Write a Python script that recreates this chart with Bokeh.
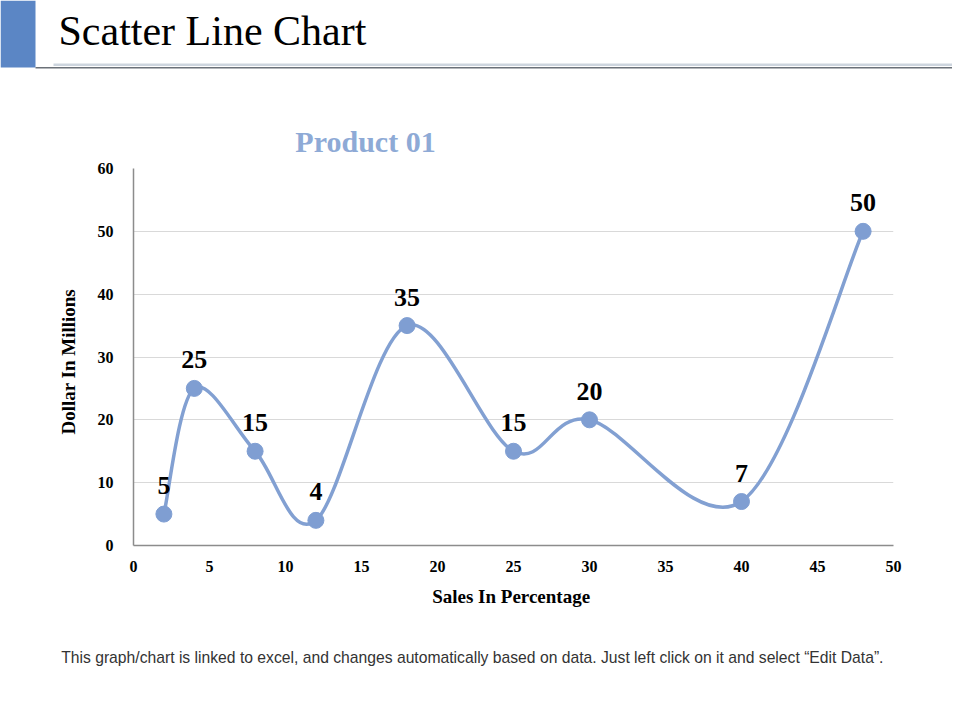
from bokeh.plotting import figure
from bokeh.layouts import column
from bokeh.models import Range1d, FixedTicker, Label, BoxAnnotation
from bokeh.core.properties import value
from bokeh.embed import file_html
from bokeh.resources import INLINE
import numpy as np

# ---- data ----
sales_pct = [2, 4, 8, 12, 18, 25, 30, 40, 48]
dollars = [5, 25, 15, 4, 35, 15, 20, 7, 50]
x_ticks = [0, 5, 10, 15, 20, 25, 30, 35, 40, 45, 50]
y_ticks = [0, 10, 20, 30, 40, 50, 60]
series_name = "Product 01"
slide_title = "Scatter Line Chart"
x_title = "Sales In  Percentage"
y_title = "Dollar  In  Millions"
footer_text = ("This graph/chart is linked to excel, and changes automatically  based on data. "
               "Just left click on it and select \u201cEdit Data\u201d.")

LINE = "#82a0d2"
SERIF = "Liberation Serif"

W = 952
HEAD_B = 159          # header occupies page y 0..159
MAIN_B = 625          # main chart occupies page y 159..625
TOTAL = 712
FL, FT, FR, FB = 133, 168, 893, 545   # plot frame on the page


def blank(height, y0, y1):
    f = figure(width=W, height=height, output_backend="svg", toolbar_location=None,
               x_range=Range1d(0, W), y_range=Range1d(y1, y0),
               x_axis_type=None, y_axis_type=None,
               min_border_left=0, min_border_right=0,
               min_border_top=0, min_border_bottom=0,
               frame_align=False)
    f.outline_line_color = None
    f.background_fill_color = "white"
    f.border_fill_color = "white"
    return f


# ---- header: slide decoration, title, series name ----
head = blank(HEAD_B, 0, HEAD_B)


def box(fig, l, r, t, b, color):
    fig.add_layout(BoxAnnotation(left=l, right=r, top=t, bottom=b,
                                 fill_color=color, fill_alpha=1, line_color=None))


box(head, 0, 35, 0, 67, "#5b86c5")
box(head, 53, W, 63, 65.5, "#cdd5de")
box(head, 35, W, 66.5, 68, "#6b7178")
head.add_layout(Label(x=58, y=30, text=slide_title, text_font=SERIF,
                      text_font_size="42px", text_color="black",
                      text_baseline="middle"))
head.add_layout(Label(x=365, y=140.5, text=series_name, text_font=SERIF,
                      text_font_style="bold", text_font_size="30px",
                      text_color="#8eaad6", text_align="center",
                      text_baseline="middle"))

# ---- main chart ----
p = figure(width=W, height=MAIN_B - HEAD_B, output_backend="svg", toolbar_location=None,
           x_range=Range1d(0, 50), y_range=Range1d(0, 60),
           min_border_left=FL, min_border_right=W - FR,
           min_border_top=FT - HEAD_B, min_border_bottom=MAIN_B - FB,
           frame_align=False)
p.outline_line_color = None
p.background_fill_color = "white"
p.border_fill_color = "white"

for ax in (p.xaxis[0], p.yaxis[0]):
    ax.axis_line_color = "#8c8c8c"
    ax.axis_line_width = 1.5
    ax.major_tick_line_color = None
    ax.minor_tick_line_color = None
    ax.major_label_text_font = SERIF
    ax.major_label_text_font_style = "bold"
    ax.major_label_text_font_size = "16px"
    ax.major_label_text_color = "black"
    ax.axis_label_text_font = SERIF
    ax.axis_label_text_font_style = "bold"
    ax.axis_label_text_font_size = "19px"
    ax.axis_label_text_color = "black"
p.xaxis.ticker = FixedTicker(ticks=x_ticks)
p.yaxis.ticker = FixedTicker(ticks=y_ticks)
p.xaxis.major_label_standoff = 9
p.yaxis.major_label_standoff = 14
p.xaxis.axis_label = x_title
p.yaxis.axis_label = y_title
p.xaxis.axis_label_standoff = 11
p.yaxis.axis_label_standoff = 16

p.xgrid.grid_line_color = None
p.ygrid.grid_line_color = "#d9d9d9"
p.ygrid.grid_line_width = 1

# smooth line (Catmull-Rom style bezier segments, like Excel's smoothed line)
xs = np.array(sales_pct, dtype=float)
ys = np.array(dollars, dtype=float)
n = len(xs)
xp = np.concatenate([[xs[0]], xs, [xs[-1]]])
yp = np.concatenate([[ys[0]], ys, [ys[-1]]])
x0 = xs[:-1]; y0 = ys[:-1]; x1 = xs[1:]; y1 = ys[1:]
cx0 = x0 + (xp[2:n+1] - xp[0:n-1]) / 6.0
cy0 = y0 + (yp[2:n+1] - yp[0:n-1]) / 6.0
cx1 = x1 - (xp[3:n+2] - xp[1:n]) / 6.0
cy1 = y1 - (yp[3:n+2] - yp[1:n]) / 6.0
p.bezier(x0=x0, y0=y0, x1=x1, y1=y1, cx0=cx0, cy0=cy0, cx1=cx1, cy1=cy1,
         line_color=LINE, line_width=3.5)

p.scatter(sales_pct, dollars, size=16, fill_color="#7f9ed2", line_color="#7f9ed2")

p.text(x=sales_pct, y=dollars, text=[str(v) for v in dollars],
       text_font=value(SERIF), text_font_style="bold", text_font_size="26px",
       text_color="black", text_align="center", text_baseline="bottom",
       y_offset=-20)

# ---- footer ----
foot = blank(TOTAL - MAIN_B, MAIN_B, TOTAL)
foot.add_layout(Label(x=474, y=657, text=footer_text,
                      text_font="Liberation Sans", text_font_size="15.7px",
                      text_color="#333333", text_align="center",
                      text_baseline="middle"))

layout = column(head, p, foot, spacing=0)
open("out.html", "w").write(file_html(layout, INLINE))
